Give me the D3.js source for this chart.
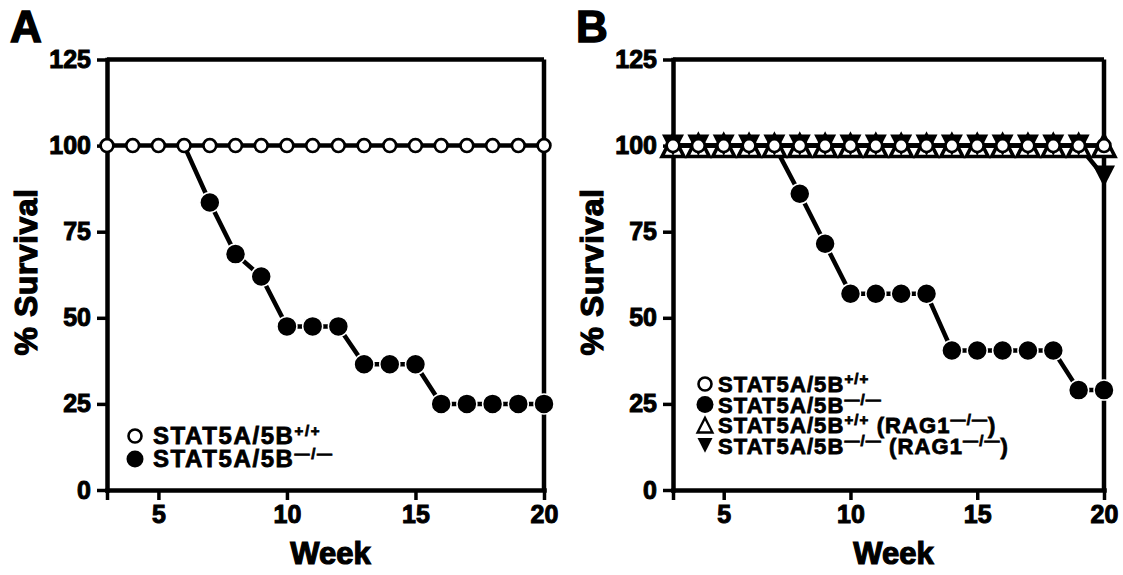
<!DOCTYPE html>
<html>
<head>
<meta charset="utf-8">
<script src="https://cdn.jsdelivr.net/npm/d3@7"></script>
<style>
  body { margin: 0; background: #fff; }
  svg text { font-family: "Liberation Sans", Arial, sans-serif; font-weight: bold; fill: #000; stroke: #000; stroke-width: 0.8px; }
</style>
</head>
<body>
<svg id="chart" width="1123" height="575"></svg>
<script>
// Survival data (% survival per week)

var weeks = d3.range(3, 21);

// panel A
var wtA = weeks.map(function (w) { return [w, 100]; });
var koA = [[6, 100], [7, 83.5], [8, 68.5], [9, 62], [10, 47.5], [11, 47.5], [12, 47.5],
           [13, 36.5], [14, 36.5], [15, 36.5], [16, 25], [17, 25], [18, 25], [19, 25], [20, 25]];

// panel B
var wtB = weeks.map(function (w) { return [w, 100]; });
var koB = [[7, 100], [8, 86], [9, 71.5], [10, 57], [11, 57], [12, 57], [13, 57],
           [14, 40.5], [15, 40.5], [16, 40.5], [17, 40.5], [18, 40.5], [19, 29], [20, 29]];
var wtRagB = weeks.map(function (w) { return [w, 100]; });
var koRagB = weeks.slice(0, -1).map(function (w) { return [w, 100]; }).concat([[20, 91]]);

var yTicks = [0, 25, 50, 75, 100, 125];
var xTicks = [3, 5, 10, 15, 20];

var svg = d3.select("#chart");

function upTri(s) {
    return "M0," + (-s * 0.95) + "L" + s + "," + s + "L" + (-s) + "," + s + "Z";
}
function downTri(s) {
    return "M0," + (s * 0.95) + "L" + s + "," + (-s) + "L" + (-s) + "," + (-s) + "Z";
}

function drawPanel(opt) {
    var x = d3.scaleLinear().domain([3, 20]).range([opt.left, opt.right]);
    var y = d3.scaleLinear().domain([0, 125]).range([490, 59.5]);
    var g = svg.append("g");

    // box: top and right edges
    g.append("line")
        .attr("x1", x(3)).attr("x2", x(20)).attr("y1", y(125)).attr("y2", y(125))
        .attr("stroke", "#000").attr("stroke-width", 4.5);
    g.append("line")
        .attr("x1", x(20)).attr("x2", x(20)).attr("y1", y(125)).attr("y2", y(0))
        .attr("stroke", "#000").attr("stroke-width", 4.5);

    var ya = g.append("g")
        .attr("transform", "translate(" + x(3) + ",0)")
        .call(d3.axisLeft(y).tickValues(yTicks).tickSize(10).tickSizeOuter(0).tickPadding(6));
    var xa = g.append("g")
        .attr("transform", "translate(0," + y(0) + ")")
        .call(d3.axisBottom(x).tickValues(xTicks).tickSize(10).tickSizeOuter(0).tickPadding(5)
            .tickFormat(function (d) { return d === 3 ? "" : d; }));
    [ya, xa].forEach(function (a) {
        a.select(".domain").attr("stroke-width", 4.5).attr("stroke-linecap", "square");
        a.selectAll(".tick line").attr("stroke-width", 3.5);
        a.selectAll(".tick text").style("font-size", "25px").style("stroke-width", "1px");
    });

    // panel letter and axis titles
    g.append("text").attr("x", opt.left - 97).attr("y", 42)
        .style("font-size", "44px").style("stroke-width", "1.5px").text(opt.letter);
    g.append("text")
        .attr("transform", "translate(" + (opt.left - 70) + ",272) rotate(-90)")
        .attr("text-anchor", "middle").style("font-size", "32px").style("letter-spacing", "0.5px")
        .style("stroke-width", "1.2px")
        .text("% Survival");
    g.append("text")
        .attr("x", (x(3) + x(20)) / 2 + 5).attr("y", 564)
        .attr("text-anchor", "middle").style("font-size", "31px").style("stroke-width", "1.2px")
        .text("Week");

    var line = d3.line().x(function (d) { return x(d[0]); }).y(function (d) { return y(d[1]); });

    opt.series.forEach(function (s) {
        g.append("path").datum(s.data).attr("d", line)
            .attr("fill", "none").attr("stroke", "#000").attr("stroke-width", 4.5);
    });

    var order = ["up", "down", "filled", "open"];
    order.forEach(function (kind) {
        opt.series.filter(function (s) { return s.kind === kind; }).forEach(function (s) {
            var pts = s.data.filter(function (d) { return kind !== "filled" || d[1] < 100; });
            var sel = g.selectAll(null).data(pts).enter();
            if (kind === "open") {
                sel.append("circle").attr("cx", function (d) { return x(d[0]); })
                    .attr("cy", function (d) { return y(d[1]); })
                    .attr("r", 6.4).attr("fill", "#fff").attr("stroke", "#000").attr("stroke-width", 2.7);
            } else if (kind === "filled") {
                sel.append("circle").attr("cx", function (d) { return x(d[0]); })
                    .attr("cy", function (d) { return y(d[1]); })
                    .attr("r", 10).attr("fill", "#000").attr("stroke", "#fff").attr("stroke-width", 1.5);
            } else if (kind === "up") {
                sel.append("path").attr("d", upTri(11))
                    .attr("transform", function (d) { return "translate(" + x(d[0]) + "," + y(d[1]) + ")"; })
                    .attr("fill", "#fff").attr("stroke", "#000").attr("stroke-width", 3.5);
            } else {
                sel.append("path").attr("d", downTri(11))
                    .attr("transform", function (d) { return "translate(" + x(d[0]) + "," + y(d[1]) + ")"; })
                    .attr("fill", "#000");
            }
        });
    });

    // legend
    var lg = g.append("g");
    opt.legend.forEach(function (item, i) {
        var cy = opt.legY + i * opt.legStep;
        var mx = opt.left + opt.legDx;
        if (item.kind === "open") {
            lg.append("circle").attr("cx", mx).attr("cy", cy).attr("r", 6.5)
                .attr("fill", "#fff").attr("stroke", "#000").attr("stroke-width", 2.6);
        } else if (item.kind === "filled") {
            lg.append("circle").attr("cx", mx).attr("cy", cy).attr("r", 8.5).attr("fill", "#000");
        } else if (item.kind === "up") {
            lg.append("path").attr("d", upTri(7.5)).attr("transform", "translate(" + mx + "," + cy + ")")
                .attr("fill", "#fff").attr("stroke", "#000").attr("stroke-width", 2.3);
        } else {
            lg.append("path").attr("d", downTri(7.5)).attr("transform", "translate(" + mx + "," + cy + ")")
                .attr("fill", "#000");
        }
        var t = lg.append("text").attr("x", mx + opt.legGap).attr("y", cy + 8)
            .style("font-size", opt.legFont + "px").style("letter-spacing", opt.legSpacing + "px");
        t.append("tspan").text("STAT5A/5B");
        t.append("tspan").attr("dy", -8).style("font-size", "15px").text(item.sup);
        if (item.rag) {
            t.append("tspan").attr("dy", 8).text(" (RAG1");
            t.append("tspan").attr("dy", -8).style("font-size", "15px").text("\u2014/\u2014");
            t.append("tspan").attr("dy", 8).text(")");
        }
    });
}

drawPanel({
    letter: "A", left: 107, right: 544,
    series: [
        { kind: "filled", data: koA },
        { kind: "open", data: wtA }
    ],
    legend: [
        { kind: "open", sup: "+/+" },
        { kind: "filled", sup: "\u2014/\u2014" }
    ],
    legY: 436, legStep: 23, legDx: 28, legGap: 18, legFont: 24, legSpacing: 1.6
});

drawPanel({
    letter: "B", left: 673, right: 1104,
    series: [
        { kind: "up", data: wtRagB },
        { kind: "down", data: koRagB },
        { kind: "filled", data: koB },
        { kind: "open", data: wtB }
    ],
    legend: [
        { kind: "open", sup: "+/+" },
        { kind: "filled", sup: "\u2014/\u2014" },
        { kind: "up", sup: "+/+", rag: true },
        { kind: "down", sup: "\u2014/\u2014", rag: true }
    ],
    legY: 384, legStep: 20.5, legDx: 32, legGap: 13, legFont: 22, legSpacing: 1.1
});
</script>
</body>
</html>
